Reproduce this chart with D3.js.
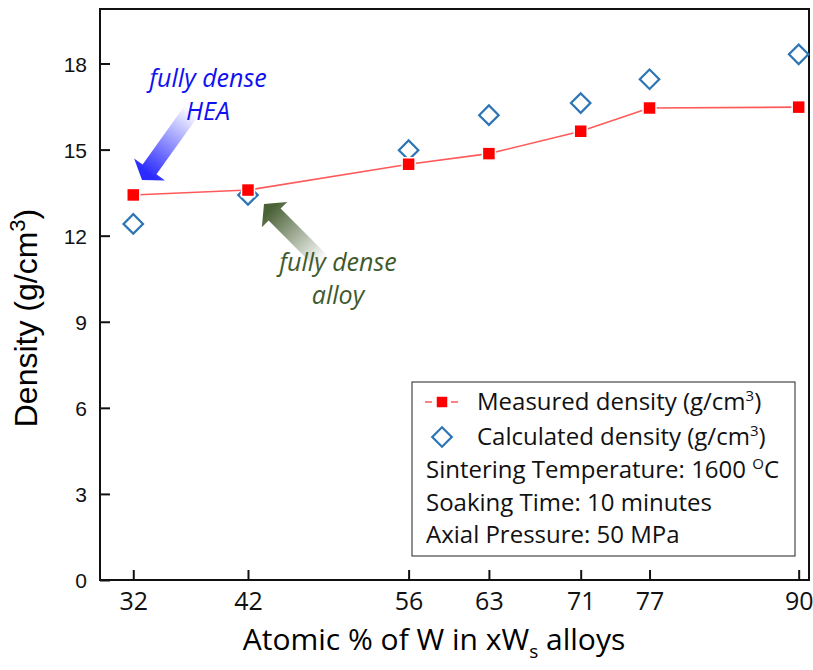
<!DOCTYPE html>
<html>
<head>
<meta charset="utf-8">
<script src="https://cdn.jsdelivr.net/npm/d3@7"></script>
<style>
  body { margin: 0; background: #fff; }
  svg { display: block; }
</style>
</head>
<body>
<div id="chart"></div>
<script>
// data
var alloys = [32, 42, 56, 63, 71, 77, 90];
var measured = [13.42, 13.59, 14.49, 14.86, 15.64, 16.45, 16.48];
var calculated = [12.41, 13.42, 14.98, 16.2, 16.62, 17.45, 18.32];
var yTicks = [0, 3, 6, 9, 12, 15, 18];

var W = 813, H = 670;
var plotL = 100, plotR = 809, plotT = 9, plotB = 580;

var svg = d3.select("#chart").append("svg")
    .attr("width", W)
    .attr("height", H);

var x = d3.scaleLinear().domain([29.1, 90.9]).range([plotL, plotR]);
var y = d3.scaleLinear().domain([0, 19.9]).range([plotB, plotT]);

var calibri = "'Open Sans', 'Noto Sans', sans-serif";
var arial = "'Liberation Sans', Arial, sans-serif";

// axes, ticks pointing inward
var xAxis = svg.append("g")
    .attr("transform", "translate(0," + plotB + ")")
    .call(d3.axisBottom(x).tickValues(alloys).tickSizeInner(-10).tickSizeOuter(0));
xAxis.selectAll("text")
    .attr("y", 30).attr("dy", 0)
    .style("font-family", calibri).style("font-size", "25px").attr("fill", "#111");

var yAxis = svg.append("g")
    .attr("transform", "translate(" + plotL + ",0)")
    .call(d3.axisLeft(y).tickValues(yTicks).tickSizeInner(-10).tickSizeOuter(0));
yAxis.selectAll("text")
    .attr("x", -13).attr("dy", "0.36em")
    .style("font-family", arial).style("font-size", "21px").attr("fill", "#111");

svg.selectAll(".domain").remove();
svg.selectAll(".tick line").attr("stroke", "#111").attr("stroke-width", 2);

// frame
svg.append("rect")
    .attr("x", plotL).attr("y", plotT)
    .attr("width", plotR - plotL).attr("height", plotB - plotT)
    .attr("fill", "none").attr("stroke", "#111").attr("stroke-width", 2);

// axis titles
svg.append("text")
    .attr("transform", "translate(37,318) rotate(-90)")
    .attr("text-anchor", "middle")
    .style("font-family", arial).style("font-size", "32px")
    .html("Density (g/cm<tspan dy='-12' font-size='22px'>3</tspan><tspan dy='12'>)</tspan>");

svg.append("text")
    .attr("x", 434).attr("y", 650)
    .attr("text-anchor", "middle")
    .style("font-family", calibri).style("font-size", "30px")
    .html("Atomic % of W in xW<tspan dy='8' font-size='19px'>s</tspan><tspan dy='-8'> alloys</tspan>");

// arrows with fading gradient
var defs = svg.append("defs");
function arrow(id, color, tail, tip, w, hw, hl) {
  var dx = tip[0] - tail[0], dy = tip[1] - tail[1];
  var len = Math.sqrt(dx * dx + dy * dy);
  var ux = dx / len, uy = dy / len, nx = -uy, ny = ux;
  var neck = [tip[0] - hl * ux, tip[1] - hl * uy];
  var pts = [
    [tail[0] + nx * w / 2, tail[1] + ny * w / 2],
    [neck[0] + nx * w / 2, neck[1] + ny * w / 2],
    [neck[0] + nx * hw / 2, neck[1] + ny * hw / 2],
    tip,
    [neck[0] - nx * hw / 2, neck[1] - ny * hw / 2],
    [neck[0] - nx * w / 2, neck[1] - ny * w / 2],
    [tail[0] - nx * w / 2, tail[1] - ny * w / 2]
  ];
  var g = defs.append("linearGradient").attr("id", id)
      .attr("gradientUnits", "userSpaceOnUse")
      .attr("x1", tail[0]).attr("y1", tail[1]).attr("x2", tip[0]).attr("y2", tip[1]);
  g.append("stop").attr("offset", "0").attr("stop-color", "#fff");
  g.append("stop").attr("offset", "0.9").attr("stop-color", color);
  g.append("stop").attr("offset", "1").attr("stop-color", color);
  svg.append("path")
      .attr("d", d3.line()(pts) + "Z")
      .attr("fill", "url(#" + id + ")");
}
arrow("gBlue", "#2b2bff", [192, 110], [142, 180], 17, 38, 13);
arrow("gGreen", "#4a6136", [322, 262], [264, 204], 17, 36, 15);

// annotations
var blueTxt = svg.append("text").attr("text-anchor", "middle")
    .style("font-family", calibri).style("font-size", "25px").style("font-style", "italic")
    .attr("fill", "#1010f0");
blueTxt.append("tspan").attr("x", 208).attr("y", 87).text("fully dense");
blueTxt.append("tspan").attr("x", 208).attr("y", 120).text("HEA");

var greenTxt = svg.append("text").attr("text-anchor", "middle")
    .style("font-family", calibri).style("font-size", "25px").style("font-style", "italic")
    .attr("fill", "#3f5a2c");
greenTxt.append("tspan").attr("x", 338).attr("y", 271).text("fully dense");
greenTxt.append("tspan").attr("x", 338).attr("y", 304).text("alloy");

// measured line + squares
var pts = alloys.map(function(a, i) { return [x(a), y(measured[i])]; });
svg.append("path")
    .attr("d", d3.line()(pts))
    .attr("fill", "none").attr("stroke", "#ff5a5a").attr("stroke-width", 1.6);

var diamond = d3.symbol().type(d3.symbolSquare).size(190);
svg.append("g").selectAll("path")
    .data(alloys)
    .enter()
    .append("path")
      .attr("d", diamond)
      .attr("transform", function(d, i) { return "translate(" + x(d) + "," + y(calculated[i]) + ") rotate(45)"; })
      .attr("fill", "none").attr("stroke", "#2e75b6").attr("stroke-width", 2.2);

svg.append("g").selectAll("rect")
    .data(alloys)
    .enter()
    .append("rect")
      .attr("x", function(d) { return x(d) - 6.5; })
      .attr("y", function(d, i) { return y(measured[i]) - 6.5; })
      .attr("width", 13).attr("height", 13)
      .attr("fill", "#ff0000").attr("stroke", "#fff").attr("stroke-width", 1.5);

// legend box
svg.append("rect")
    .attr("x", 412).attr("y", 382).attr("width", 383).attr("height", 174)
    .attr("fill", "#fff").attr("stroke", "#222").attr("stroke-width", 1);

svg.append("line")
    .attr("x1", 425).attr("x2", 458).attr("y1", 402).attr("y2", 402)
    .attr("stroke", "#ff5a5a").attr("stroke-width", 1.6).attr("stroke-dasharray", "7,19");
svg.append("rect")
    .attr("x", 436).attr("y", 396).attr("width", 12).attr("height", 12)
    .attr("fill", "#ff0000").attr("stroke", "#fff").attr("stroke-width", 1.5);
svg.append("path")
    .attr("d", diamond)
    .attr("transform", "translate(442,437) rotate(45)")
    .attr("fill", "none").attr("stroke", "#2e75b6").attr("stroke-width", 2.2);

var legFont = function(t) {
  return t.style("font-family", calibri).style("font-size", "24px").attr("fill", "#111");
};
legFont(svg.append("text").attr("x", 477).attr("y", 410))
    .html("Measured density (g/cm<tspan dy='-9' font-size='15px'>3</tspan><tspan dy='9'>)</tspan>");
legFont(svg.append("text").attr("x", 477).attr("y", 445))
    .html("Calculated density (g/cm<tspan dy='-9' font-size='15px'>3</tspan><tspan dy='9'>)</tspan>");
legFont(svg.append("text").attr("x", 426).attr("y", 478))
    .html("Sintering Temperature: 1600 <tspan dy='-9' font-size='15px'>O</tspan><tspan dy='9'>C</tspan>");
legFont(svg.append("text").attr("x", 426).attr("y", 511)).text("Soaking Time: 10 minutes");
legFont(svg.append("text").attr("x", 426).attr("y", 543)).text("Axial Pressure: 50 MPa");
</script>
</body>
</html>
